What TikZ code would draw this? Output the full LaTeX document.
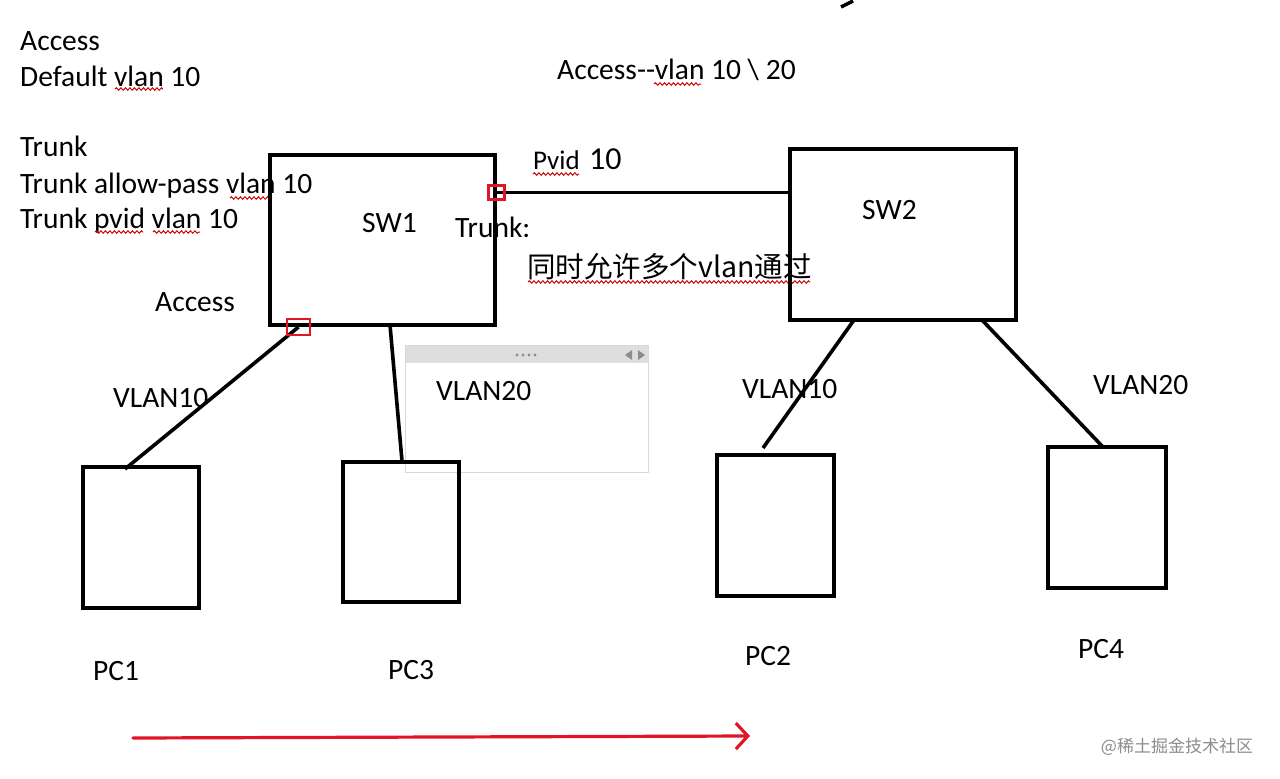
\documentclass[tikz,border=0pt]{standalone}
\usepackage{fontspec}
\setmainfont{Carlito}
\newfontfamily\cjk{Noto Sans CJK SC}
\usetikzlibrary{arrows.meta,decorations.pathmorphing}
\begin{document}
\begin{tikzpicture}[x=1pt,y=-1pt,
  txt/.style={anchor=base west, inner sep=0pt, font=\fontsize{29.5}{34}\selectfont},
  box/.style={draw, line width=4pt, inner sep=0pt},
  port/.style={draw={rgb,255:red,225;green,20;blue,40}, line width=2.4pt, inner sep=0pt},
  link/.style={line width=3.6pt},
  squig/.style={draw=red!80!black, line width=1pt, decorate, decoration={snake, segment length=4.5pt, amplitude=1.2pt}},
  win/.style={draw=black!15, line width=1.8pt, fill=white, inner sep=0pt}
]
\useasboundingbox[fill=white] (0,0) rectangle (1280,779);

% top-left notes
\node[txt] (t1) at (20,50) {Access};
\node[txt] (t2) at (20,86) {Default vlan 10};
\node[txt] (t3) at (20,156) {Trunk};
\node[txt] (t4) at (20,193) {Trunk allow-pass vlan 10};
\node[txt] (t5) at (20,228) {Trunk pvid vlan 10};
\draw[squig] (115,89) -- (163,89);
\draw[squig] (230,198) -- (272,198);
\draw[squig] (95,232) -- (143,232);
\draw[squig] (153,232) -- (200,232);

% top middle notes
\node[txt] (t6) at (557,79) {Access-{}-vlan 10 \textbackslash{} 20};
\draw[squig] (654,84) -- (701,84);
\node[txt, font=\fontsize{27}{30}\selectfont] (t7) at (533,169) {Pvid};
\node[txt, font=\fontsize{32}{36}\selectfont] (t7b) at (589,169) {10};
\draw[squig] (533,174) -- (579,174);
\node[txt] (t8) at (455,237) {Trunk:};
\node[txt, font=\cjk\fontsize{28.5}{32}\selectfont] (t9) at (527,277) {同时允许多个vlan通过};
\draw[squig] (528,282) -- (810,282);

% grey floating window
\node[win, minimum width=243pt, minimum height=127pt] (winbox) at (527,409) {};
\fill[black!13] (406,346) rectangle (648,363);
\foreach \dx in {0,6,12,18} \fill[black!45] (517+\dx,355) circle (1.7);
\fill[black!45] (625,355) -- (632,350) -- (632,360) -- cycle;
\fill[black!45] (645,355) -- (638,350) -- (638,360) -- cycle;

% switches
\node[box, minimum width=225pt, minimum height=170pt] (sw1) at (382.5,240) {};
\node[box, minimum width=226pt, minimum height=171pt] (sw2) at (902.5,234.5) {};
\node[txt] (sw1l) at (362,232) {SW1};
\node[txt] (sw2l) at (862,219) {SW2};

% PCs
\node[box, minimum width=116pt, minimum height=141pt] (pc1) at (141,537.5) {};
\node[box, minimum width=116pt, minimum height=140pt] (pc3) at (401,532) {};
\node[box, minimum width=117pt, minimum height=141pt] (pc2) at (775.5,525.5) {};
\node[box, minimum width=118pt, minimum height=141pt] (pc4) at (1107,517.5) {};
\node[txt] (pc1l) at (93,680) {PC1};
\node[txt] (pc3l) at (388,679) {PC3};
\node[txt] (pc2l) at (745,665) {PC2};
\node[txt] (pc4l) at (1078,658) {PC4};

% coordinates for link ends
\coordinate (a1) at (125,469);
\coordinate (b0) at (390,325);
\coordinate (b1) at (402,461);
\coordinate (c0) at (854,320);
\coordinate (c1) at (763,448);
\coordinate (d0) at (982,320);
\coordinate (d1) at (1102,446);
\coordinate (p1c) at (496.5,192.5);
\coordinate (p2c) at (298.5,327);

% links
\draw[link] (p1c) -- (p1c -| sw2.west);
\draw[link] (p2c) -- (a1);
\draw[link] (b0) -- (b1);
\draw[link] (c0) -- (c1);
\draw[link] (d0) -- (d1);

% ports
\node[port, minimum width=16pt, minimum height=14pt] (p1) at (p1c) {};
\node[port, minimum width=23pt, minimum height=16pt] (p2) at (p2c) {};

% labels
\node[txt] (l1) at (155,311) {Access};
\node[txt] (l2) at (113,407) {VLAN10};
\node[txt] (l3) at (436,400) {VLAN20};
\node[txt] (l4) at (742,398) {VLAN10};
\node[txt] (l5) at (1093,394) {VLAN20};

% red arrow
\coordinate (ra) at (133,738);
\coordinate (rb) at (750,736);
\draw[line width=3.2pt, color={rgb,255:red,225;green,20;blue,40}, line cap=round,
  -{Straight Barb[length=12pt, width=26pt, line width=3.2pt]}] (ra) -- (rb);

% small stroke at top
\draw[line width=3.5pt] (841,7) -- (853,1);

% site mark
\node[anchor=center, inner sep=0pt, text=black!45, font=\cjk\fontsize{17}{20}\selectfont] (wm) at (1177,747) {@稀土掘金技术社区};
\end{tikzpicture}
\end{document}
